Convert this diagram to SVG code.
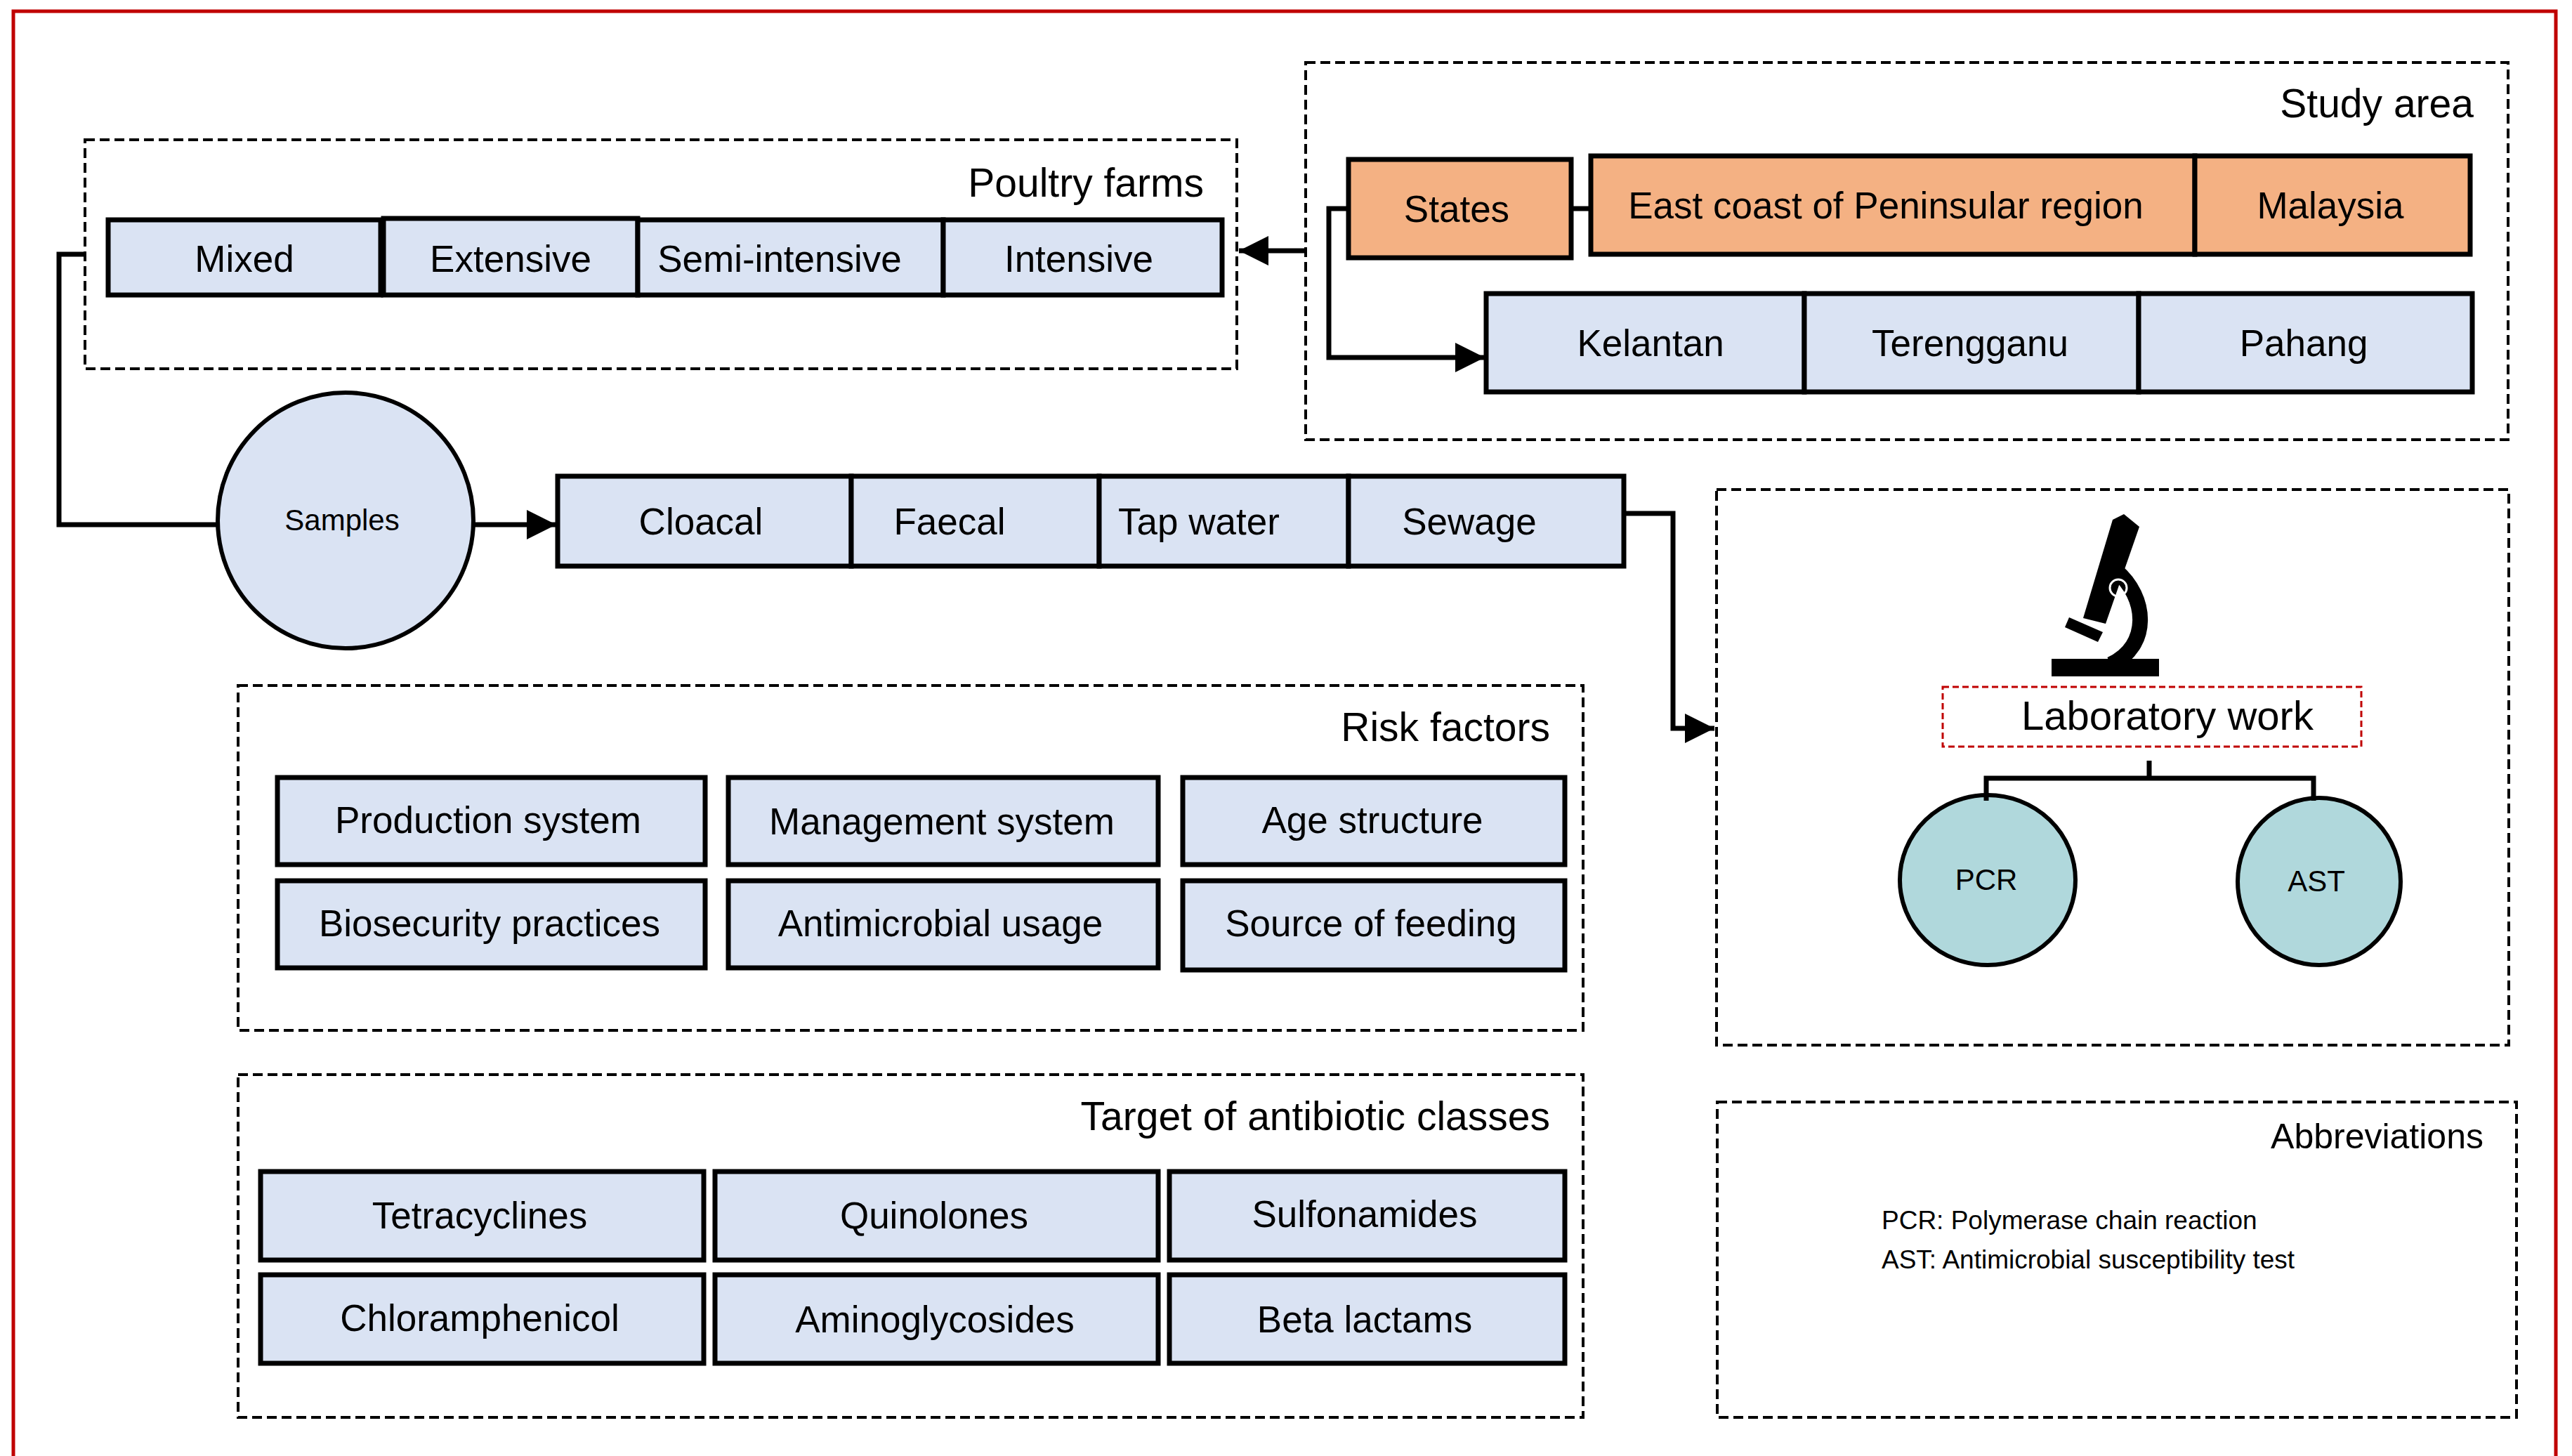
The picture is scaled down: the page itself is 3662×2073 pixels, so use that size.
<svg xmlns="http://www.w3.org/2000/svg" width="3662" height="2073" viewBox="0 0 3662 2073">
<style>
text{font-family:"Liberation Sans",Arial,sans-serif;fill:#000}
.grp{fill:none;stroke:#000;stroke-width:4;stroke-dasharray:14 7}
.bx{fill:#DAE3F3;stroke:#000;stroke-width:7}
.or{fill:#F4B183;stroke:#000;stroke-width:7}
.t{font-size:53px;text-anchor:middle;dominant-baseline:central}
.ttl{font-size:57px;text-anchor:end}
.ln{fill:none;stroke:#000;stroke-width:7}
</style>
<defs><marker id="ah" markerWidth="6" markerHeight="6" refX="6" refY="3" orient="auto" markerUnits="strokeWidth"><path d="M0,0 L6,3 L0,6 z" fill="#000"/></marker></defs>
<rect x="0" y="0" width="3662" height="2073" fill="#fff"/>
<path d="M19,2073 V16 H3639 V2073" fill="none" stroke="#C00000" stroke-width="5"/>
<g id="poultry">
<rect class="grp" x="121" y="199" width="1640" height="326"/>
<text class="ttl" x="1714" y="280">Poultry farms</text>
<rect class="bx" x="154" y="313" width="388" height="107"/><text class="t" x="348" y="368">Mixed</text>
<rect class="bx" x="546" y="311" width="362" height="109"/><text class="t" x="727" y="368">Extensive</text>
<rect class="bx" x="908" y="313" width="435" height="107"/><text class="t" x="1110" y="368">Semi-intensive</text>
<rect class="bx" x="1343" y="313" width="397" height="107"/><text class="t" x="1536" y="368">Intensive</text>
</g>
<g id="study">
<rect class="grp" x="1859" y="89" width="1712" height="537"/>
<text class="ttl" x="3522" y="167">Study area</text>
<rect class="or" x="1920" y="227" width="317" height="140"/><text class="t" x="2074" y="297">States</text>
<rect class="or" x="2265" y="222" width="860" height="140"/><text class="t" x="2685" y="292">East coast of Peninsular region</text>
<rect class="or" x="3125" y="222" width="392" height="140"/><text class="t" x="3318" y="292">Malaysia</text>
<rect class="bx" x="2116" y="418" width="453" height="140"/><text class="t" x="2350" y="488">Kelantan</text>
<rect class="bx" x="2569" y="418" width="476" height="140"/><text class="t" x="2805" y="488">Terengganu</text>
<rect class="bx" x="3045" y="418" width="475" height="140"/><text class="t" x="3280" y="488">Pahang</text>
</g>
<g id="samples">
<ellipse cx="492" cy="741" rx="182" ry="182" fill="#DAE3F3" stroke="#000" stroke-width="6"/>
<text class="t" x="487" y="740" style="font-size:42px">Samples</text>
<rect class="bx" x="794" y="678" width="418" height="128"/><text class="t" x="998" y="742">Cloacal</text>
<rect class="bx" x="1212" y="678" width="353" height="128"/><text class="t" x="1352" y="742">Faecal</text>
<rect class="bx" x="1565" y="678" width="355" height="128"/><text class="t" x="1707" y="742">Tap water</text>
<rect class="bx" x="1920" y="678" width="392" height="128"/><text class="t" x="2092" y="742">Sewage</text>
</g>
<g id="lab">
<rect class="grp" x="2444" y="697" width="1128" height="791"/>
<g id="microscope" fill="#000">
<polygon points="3008,740 3024,732 3046,750 2998,888 2966,880"/>
<path d="M3012,812 C3058,850 3062,920 3005,946" fill="none" stroke="#000" stroke-width="22"/>
<polygon points="2946,879 2994,900 2987,914 2940,893"/>
<rect x="2921" y="938" width="153" height="25"/>
<circle cx="3016" cy="837" r="12" fill="none" stroke="#fff" stroke-width="3"/>
</g>
<rect x="2766" y="978" width="596" height="85" fill="#fff" stroke="#C00000" stroke-width="3" stroke-dasharray="9 5"/>
<text class="t" x="3086" y="1018" style="font-size:58px">Laboratory work</text>
<ellipse cx="2830" cy="1253" rx="125" ry="121" fill="#B0D8DC" stroke="#000" stroke-width="6"/>
<text class="t" x="2828" y="1252" style="font-size:42px">PCR</text>
<ellipse cx="3302" cy="1255" rx="116" ry="119" fill="#B0D8DC" stroke="#000" stroke-width="6"/>
<text class="t" x="3298" y="1254" style="font-size:42px">AST</text>
</g>
<g id="risk">
<rect class="grp" x="339" y="976" width="1915" height="491"/>
<text class="ttl" x="2207" y="1055">Risk factors</text>
<rect class="bx" x="395" y="1107" width="609" height="124"/><text class="t" x="695" y="1167">Production system</text>
<rect class="bx" x="1037" y="1107" width="612" height="124"/><text class="t" x="1341" y="1169">Management system</text>
<rect class="bx" x="1684" y="1107" width="544" height="124"/><text class="t" x="1954" y="1167">Age structure</text>
<rect class="bx" x="395" y="1254" width="609" height="124"/><text class="t" x="697" y="1314">Biosecurity practices</text>
<rect class="bx" x="1037" y="1254" width="612" height="124"/><text class="t" x="1339" y="1314">Antimicrobial usage</text>
<rect class="bx" x="1684" y="1254" width="544" height="127"/><text class="t" x="1952" y="1314">Source of feeding</text>
</g>
<g id="antibiotic">
<rect class="grp" x="339" y="1530" width="1915" height="488"/>
<text class="ttl" x="2207" y="1609">Target of antibiotic classes</text>
<rect class="bx" x="371" y="1668" width="631" height="126"/><text class="t" x="683" y="1730">Tetracyclines</text>
<rect class="bx" x="1018" y="1668" width="631" height="126"/><text class="t" x="1330" y="1730">Quinolones</text>
<rect class="bx" x="1665" y="1668" width="563" height="126"/><text class="t" x="1943" y="1728">Sulfonamides</text>
<rect class="bx" x="371" y="1815" width="631" height="126"/><text class="t" x="683" y="1876">Chloramphenicol</text>
<rect class="bx" x="1018" y="1815" width="631" height="126"/><text class="t" x="1331" y="1878">Aminoglycosides</text>
<rect class="bx" x="1665" y="1815" width="563" height="126"/><text class="t" x="1943" y="1878">Beta lactams</text>
</g>
<g id="abbrev">
<rect class="grp" x="2445" y="1569" width="1138" height="449"/>
<text class="ttl" x="3536" y="1635" style="font-size:50px">Abbreviations</text>
<text x="2679" y="1750" style="font-size:37px">PCR: Polymerase chain reaction</text>
<text x="2679" y="1806" style="font-size:37px">AST: Antimicrobial susceptibility test</text>
</g>
<g id="connectors">
<path class="ln" d="M1859,357 H1764" marker-end="url(#ah)"/>
<path class="ln" d="M2237,297 H2265"/>
<path class="ln" d="M1920,297 H1892 V509 H2114" marker-end="url(#ah)"/>
<path class="ln" d="M121,362 H84 V747 H311"/>
<path class="ln" d="M674,747 H792" marker-end="url(#ah)"/>
<path class="ln" d="M2312,731 H2382 V1037 H2441" marker-end="url(#ah)"/>
<path class="ln" d="M3060,1083 V1108 M2828,1140 V1108 H3294 V1140"/>
</g>
</svg>
